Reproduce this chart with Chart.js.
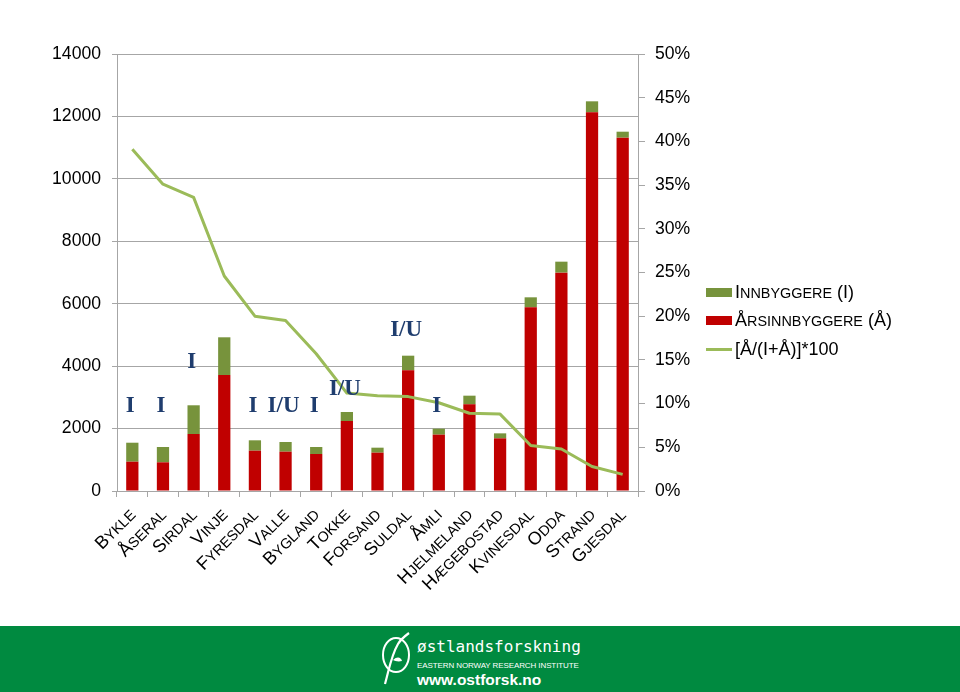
<!DOCTYPE html>
<html lang="no">
<head>
<meta charset="utf-8">
<title>Innbyggere og årsinnbyggere</title>
<script src="https://cdn.jsdelivr.net/npm/chart.js@4.4.1/dist/chart.umd.min.js"></script>
<style>
  body { margin: 0; background: #fff; font-family: 'Liberation Sans', Arial, sans-serif; }
  #wrap { position: relative; width: 960px; height: 626px; }
  .leg { position: absolute; left: 706px; height: 20px; line-height: 20px; white-space: nowrap; color: #000; font-size: 18px; }
  .leg .sw { position: absolute; left: 0; width: 26px; }
  .leg .tx { position: absolute; left: 29px; top: 0; }
  .sc { font-size: 14.4px; }
  #footer { position: relative; width: 960px; height: 66px; background: #008A40; color: #fff; overflow: hidden; }
  #footer div { position: absolute; left: 417px; white-space: nowrap; }
  .brand { top: 12px; font: 16px/18px 'DejaVu Sans Mono', monospace; }
  .sub { top: 35px; font: 8px/10px 'Liberation Sans', Arial, sans-serif; letter-spacing: -0.1px; }
  .url { top: 45px; font: bold 15.5px/17px 'Liberation Sans', Arial, sans-serif; }
</style>
</head>
<body>
<div id="wrap">
  <canvas id="chart"></canvas>
  <div class="leg" style="top:282px"><span class="sw" style="top:6px;height:9px;background:#77933C"></span><span class="tx">I<span class="sc">NNBYGGERE</span> (I)</span></div>
  <div class="leg" style="top:310px"><span class="sw" style="top:6px;height:9px;background:#C00000"></span><span class="tx">Å<span class="sc">RSINNBYGGERE</span> (Å)</span></div>
  <div class="leg" style="top:339px"><span class="sw" style="top:9px;height:3px;background:#9BBB59"></span><span class="tx">[Å/(I+Å)]*100</span></div>
</div>
<div id="footer">
  <svg style="position:absolute;left:378px;top:4px" width="36" height="56" viewBox="0 0 36 56">
    <ellipse cx="18" cy="25" rx="13" ry="17" fill="none" stroke="#fff" stroke-width="2"/>
    <path d="M7 54 C 11 40, 13 26, 20 14 C 23 9, 27 6, 31 3" fill="none" stroke="#fff" stroke-width="2.2"/>
    <path d="M15 30 C 19 26, 23 27, 24 31 C 20 32, 17 31, 15 30 Z" fill="#fff"/>
  </svg>
  <div class="brand">østlandsforskning</div>
  <div class="sub">EASTERN NORWAY RESEARCH INSTITUTE</div>
  <div class="url">www.ostforsk.no</div>
</div>
<script>
// kommuner, sortert etter andel
const kommuner = ['Bykle', 'Åseral', 'Sirdal', 'Vinje', 'Fyresdal', 'Valle', 'Bygland', 'Tokke', 'Forsand',
  'Suldal', 'Åmli', 'Hjelmeland', 'Hægebostad', 'Kvinesdal', 'Odda', 'Strand', 'Gjesdal'];

// stablede søyler: rød nederst, grønn oppå
const aarsinnbyggere = [939, 919, 1826, 3716, 1292, 1260, 1185, 2243, 1228, 3866, 1805, 2777, 1687, 5885, 6995, 12131, 11319];
const innbyggere = [608, 491, 920, 1208, 332, 310, 225, 288, 160, 469, 192, 277, 160, 320, 352, 353, 192];

// linje på høyre akse (%)
const andel = [39.1, 35.1, 33.6, 24.6, 20.0, 19.5, 15.7, 11.2, 10.9, 10.8, 10.1, 8.9, 8.8, 5.2, 4.8, 2.8, 1.9];

// merknader over søylene (kommune-indeks, tekst, nivå på venstre akse)
const merkIndex = [0, 1, 2, 4, 5, 6, 7, 9, 10];
const merkTekst = ['I', 'I', 'I', 'I', 'I/U', 'I', 'I/U', 'I/U', 'I'];
const merkNivaa = [2720, 2720, 4140, 2720, 2720, 2720, 3270, 5140, 2720];

const venstreTicks = [0, 2000, 4000, 6000, 8000, 10000, 12000, 14000];
const hoyreTicks = [0, 5, 10, 15, 20, 25, 30, 35, 40, 45, 50];

const grey = '#A6A6A6';
const sans = "'Liberation Sans', Arial, sans-serif";

// x-etiketter i kapitéler, rotert 45 grader
const kapitelEtiketter = {
  id: 'kapitelEtiketter',
  afterDraw(chart) {
    const ctx = chart.ctx, xs = chart.scales.x;
    kommuner.forEach((navn, i) => {
      const first = navn.charAt(0).toUpperCase();
      const rest = navn.slice(1).toUpperCase();
      ctx.save();
      ctx.translate(xs.getPixelForValue(i), xs.top + 20.5);
      ctx.rotate(-Math.PI / 4);
      ctx.fillStyle = '#000';
      ctx.textBaseline = 'alphabetic';
      ctx.textAlign = 'left';
      ctx.font = '18px ' + sans;
      const w1 = ctx.measureText(first).width;
      ctx.font = '14.4px ' + sans;
      const w2 = ctx.measureText(rest).width;
      ctx.font = '18px ' + sans;
      ctx.fillText(first, -(w1 + w2), 6);
      ctx.font = '14.4px ' + sans;
      ctx.fillText(rest, -w2, 6);
      ctx.restore();
    });
  }
};

const merknader = {
  id: 'merknader',
  afterDatasetsDraw(chart) {
    const ctx = chart.ctx;
    ctx.save();
    ctx.font = "bold 23px 'Liberation Serif', 'Times New Roman', serif";
    ctx.fillStyle = '#1F3D6E';
    ctx.textAlign = 'center';
    ctx.textBaseline = 'middle';
    merkIndex.forEach((idx, k) => {
      const x = chart.scales.x.getPixelForValue(idx) - 2;
      const y = chart.scales.y.getPixelForValue(merkNivaa[k]);
      ctx.fillText(merkTekst[k], x, y);
    });
    ctx.restore();
  }
};

new Chart(document.getElementById('chart'), {
  type: 'bar',
  data: {
    labels: kommuner,
    datasets: [
      { label: 'Årsinnbyggere (Å)', data: aarsinnbyggere, backgroundColor: '#C00000', yAxisID: 'y', order: 1,
        barPercentage: 0.4, categoryPercentage: 1 },
      { label: 'Innbyggere (I)', data: innbyggere, backgroundColor: '#77933C', yAxisID: 'y', order: 1,
        barPercentage: 0.4, categoryPercentage: 1 },
      { type: 'line', label: '[Å/(I+Å)]*100', data: andel, yAxisID: 'y1', order: 0,
        borderColor: '#9BBB59', borderWidth: 3, pointRadius: 0, tension: 0, borderJoinStyle: 'round' }
    ]
  },
  options: {
    responsive: true,
    maintainAspectRatio: false,
    animation: false,
    layout: { padding: { top: 54, right: 262, bottom: 0, left: 0 } },
    plugins: { legend: { display: false }, tooltip: { enabled: false } },
    scales: {
      x: {
        stacked: true,
        offset: true,
        ticks: { display: false },
        grid: { offset: true, drawOnChartArea: false, tickLength: 6, color: grey },
        border: { color: grey },
        afterFit(s) { s.height = 135; }
      },
      y: {
        stacked: true,
        min: 0,
        max: 14000,
        afterBuildTicks(s) { s.ticks = venstreTicks.map(v => ({ value: v })); },
        ticks: { padding: 11, color: '#000', font: { family: sans, size: 17.6 }, callback: v => String(v) },
        grid: { color: grey, tickLength: 5 },
        border: { color: grey },
        afterFit(s) { s.width = 117; }
      },
      y1: {
        position: 'right',
        min: 0,
        max: 50,
        afterBuildTicks(s) { s.ticks = hoyreTicks.map(v => ({ value: v })); },
        ticks: { padding: 10, color: '#000', font: { family: sans, size: 17.6 }, callback: v => v + '%' },
        grid: { drawOnChartArea: false, tickLength: 7, color: grey },
        border: { color: grey },
        afterFit(s) { s.width = 60; }
      }
    }
  },
  plugins: [kapitelEtiketter, merknader]
});
</script>
</body>
</html>
